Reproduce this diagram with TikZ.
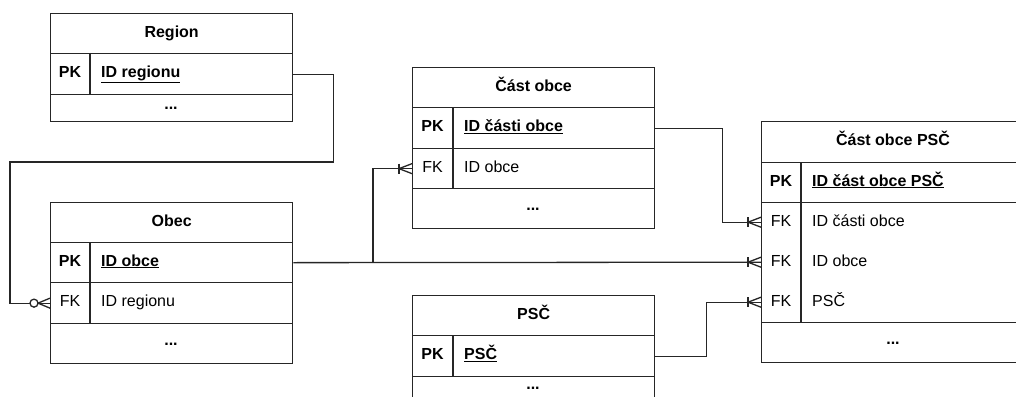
\documentclass[tikz,border=0pt]{standalone}
\usepackage{fontspec}
\setmainfont{Liberation Sans}
\newcommand\fnt{\fontsize{16}{19}\selectfont}
\tikzset{
  line/.style={line width=1.3pt, draw=black!85},
  tbl/.style={line, inner sep=0pt, anchor=north west},
  ttl/.style={font=\fnt\bfseries, text height=11.5pt, text depth=3.5pt, inner sep=0pt},
  keytxt/.style={font=\fnt\bfseries, text height=11.5pt, text depth=3.5pt, inner sep=0pt},
  fktxt/.style={font=\fnt, text height=11.5pt, text depth=3.5pt, inner sep=0pt},
  pkattr/.style={font=\fnt\bfseries, anchor=west, text height=11.5pt, text depth=3.5pt, inner sep=0pt},
  attr/.style={font=\fnt, anchor=west, text height=11.5pt, text depth=3.5pt, inner sep=0pt},
  dots/.style={font=\fnt\bfseries, inner sep=0pt},
  rowslot/.style={inner sep=0pt, anchor=north west},
}
\newcommand\mandmany[1]{%
  \draw[line, shift={(#1)}] (-13,-5) -- (-13,5);
  \draw[line, shift={(#1)}] (0,-5) -- (-13,0) -- (0,5);}
\newcommand\zeromany[1]{%
  \draw[line, shift={(#1)}] (0,-5) -- (-12,0) -- (0,5);
  \draw[line, fill=white, shift={(#1)}] (-16,0) circle (4);}
\begin{document}
\begin{tikzpicture}[x=1pt,y=-1pt]
\useasboundingbox (0,0) rectangle (1016,396);
\clip (0,0) rectangle (1016,396);
\fill[white] (0,0) rectangle (1016,396);

% ---------- Region ----------
\node[tbl, minimum width=242pt, minimum height=40pt] (regH) at (50,13) {};
\node[tbl, minimum width=242pt, minimum height=41pt] (regPK) at (50,53) {};
\node[tbl, minimum width=242pt, minimum height=27pt] (regE) at (50,94) {};
\draw[line] (90,53) -- (90,94);
\node[ttl] (regT) at (regH.center) {Region};
\node[keytxt] (regK) at (70,73.5) {PK};
\node[pkattr] (regA) at (101,73.5) {\underline{ID regionu}};
\node[dots] (regD) at (171,108) {...};

% ---------- Obec ----------
\node[tbl, minimum width=242pt, minimum height=40pt] (obH) at (50,202) {};
\node[tbl, minimum width=242pt, minimum height=40pt] (obPK) at (50,242) {};
\node[tbl, minimum width=242pt, minimum height=41pt] (obFK) at (50,282) {};
\node[tbl, minimum width=242pt, minimum height=40pt] (obE) at (50,323) {};
\draw[line] (90,242) -- (90,323);
\node[ttl] (obT) at (obH.center) {Obec};
\node[keytxt] (obK1) at (70,262) {PK};
\node[pkattr] (obA1) at (101,262) {\underline{ID obce}};
\node[fktxt] (obK2) at (70,302.5) {FK};
\node[attr] (obA2) at (101,302.5) {ID regionu};
\node[dots] (obD) at (171,344) {...};

% ---------- Cast obce ----------
\node[tbl, minimum width=242pt, minimum height=40pt] (coH) at (412,67) {};
\node[tbl, minimum width=242pt, minimum height=41pt] (coPK) at (412,107) {};
\node[tbl, minimum width=242pt, minimum height=40pt] (coFK) at (412,148) {};
\node[tbl, minimum width=242pt, minimum height=40pt] (coE) at (412,188) {};
\draw[line] (453,107) -- (453,188);
\node[ttl] (coT) at (coH.center) {Část obce};
\node[keytxt] (coK1) at (432.5,127.5) {PK};
\node[pkattr] (coA1) at (464,127.5) {\underline{ID části obce}};
\node[fktxt] (coK2) at (432.5,168) {FK};
\node[attr] (coA2) at (464,168) {ID obce};
\node[dots] (coD) at (533,209) {...};

% ---------- PSC ----------
\node[tbl, minimum width=242pt, minimum height=40pt] (psH) at (412,295) {};
\node[tbl, minimum width=242pt, minimum height=41pt] (psPK) at (412,335) {};
\node[tbl, minimum width=242pt, minimum height=40pt] (psE) at (412,376) {};
\draw[line] (453,335) -- (453,376);
\node[ttl] (psT) at (psH.center) {PSČ};
\node[keytxt] (psK) at (432.5,355.5) {PK};
\node[pkattr] (psA) at (464,355.5) {\underline{PSČ}};
\node[dots] (psD) at (533,388.5) {...};

% ---------- Cast obce PSC ----------
\node[tbl, minimum width=264pt, minimum height=41pt] (cpH) at (761,121) {};
\node[tbl, minimum width=264pt, minimum height=40pt] (cpPK) at (761,162) {};
\node[tbl, minimum width=264pt, minimum height=120pt] (cpFK) at (761,202) {};
\node[tbl, minimum width=264pt, minimum height=40pt] (cpE) at (761,322) {};
\node[rowslot, minimum width=264pt, minimum height=40pt] (cpR1) at (761,202) {};
\node[rowslot, minimum width=264pt, minimum height=40pt] (cpR2) at (761,242) {};
\node[rowslot, minimum width=264pt, minimum height=40pt] (cpR3) at (761,282) {};
\draw[line] (801,162) -- (801,322);
\node[ttl] (cpT) at (893,141.5) {Část obce PSČ};
\node[keytxt] (cpK0) at (781,182) {PK};
\node[pkattr] (cpA0) at (812,182) {\underline{ID část obce PSČ}};
\node[fktxt] (cpK1) at (781,222) {FK};
\node[attr] (cpA1) at (812,222) {ID části obce};
\node[fktxt] (cpK2) at (781,262) {FK};
\node[attr] (cpA2) at (812,262) {ID obce};
\node[fktxt] (cpK3) at (781,302) {FK};
\node[attr] (cpA3) at (812,302) {PSČ};
\node[dots] (cpD) at (893,343) {...};

% ---------- connectors ----------
\coordinate (bendL) at (10,162);
\draw[line] (regPK.east) -- ++(40,0) |- (bendL) |- (obFK.west);
\zeromany{obFK.west}

\draw[line] (obPK.east) -- (cpR2.west);
\mandmany{cpR2.west}
\coordinate (branch) at (373,262);
\draw[line] (branch) |- (coFK.west);
\mandmany{coFK.west}

\draw[line] (coPK.east) -- ++(67,0) |- (cpR1.west);
\mandmany{cpR1.west}

\draw[line] (psPK.east) -- ++(51,0) |- (cpR3.west);
\mandmany{cpR3.west}
\end{tikzpicture}
\end{document}
